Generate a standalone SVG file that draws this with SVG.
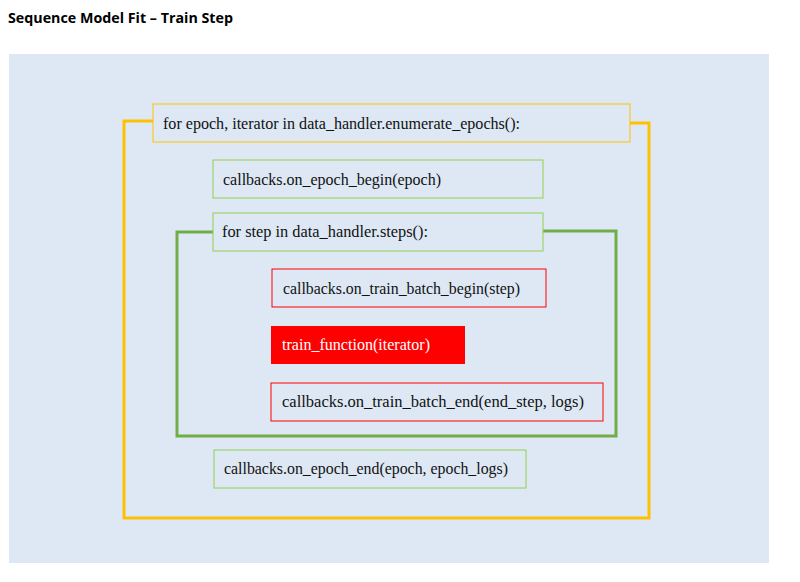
<svg xmlns="http://www.w3.org/2000/svg" width="800" height="582" viewBox="0 0 800 582">
<style>
.t{font-family:"Liberation Serif","Times New Roman",serif;font-size:16px;fill:#111}
.box{fill:#dde8f4;stroke-width:1}
.g{stroke:#92d050}
.r{stroke:#ff0000}
.y{stroke:#ffc000}
.loop{fill:none;stroke-width:3}
</style>
<rect width="800" height="582" fill="#ffffff"/>
<text x="8" y="23" font-family="'Open Sans','Liberation Sans',sans-serif" font-weight="bold" font-size="14" textLength="225" lengthAdjust="spacingAndGlyphs" fill="#000">Sequence Model Fit – Train Step</text>
<rect x="9" y="54" width="760" height="509" fill="#dde8f4"/>
<g id="connectors">
<path class="loop" stroke="#ffc000" d="M153,121 H124 V518 H649 V123 H630"/>
<path class="loop" stroke="#70ad47" d="M213,232 H177 V436 H616 V231 H543"/>
</g>
<g id="epoch-loop">
<rect class="box y" x="153" y="104" width="477" height="38"/>
<text class="t" x="163" y="129" textLength="357" lengthAdjust="spacingAndGlyphs">for epoch, iterator in data_handler.enumerate_epochs():</text>
</g>
<g id="epoch-begin">
<rect class="box g" x="213" y="160" width="330" height="38"/>
<text class="t" x="223" y="185" textLength="218" lengthAdjust="spacingAndGlyphs">callbacks.on_epoch_begin(epoch)</text>
</g>
<g id="step-loop">
<rect class="box g" x="213" y="213" width="330" height="38"/>
<text class="t" x="222" y="237" textLength="206" lengthAdjust="spacingAndGlyphs">for step in data_handler.steps():</text>
</g>
<g id="batch-begin">
<rect class="box r" x="272" y="269" width="274" height="38"/>
<text class="t" x="283" y="294" textLength="237" lengthAdjust="spacingAndGlyphs">callbacks.on_train_batch_begin(step)</text>
</g>
<g id="train-function">
<rect x="271" y="326" width="194" height="38" fill="#ff0000"/>
<text class="t" x="282" y="350" textLength="148" lengthAdjust="spacingAndGlyphs" style="fill:#ffffff">train_function(iterator)</text>
</g>
<g id="batch-end">
<rect class="box r" x="271" y="383" width="332" height="38"/>
<text class="t" x="282" y="407" textLength="302" lengthAdjust="spacingAndGlyphs">callbacks.on_train_batch_end(end_step, logs)</text>
</g>
<g id="epoch-end">
<rect class="box g" x="214" y="450" width="312" height="38"/>
<text class="t" x="224" y="474" textLength="284" lengthAdjust="spacingAndGlyphs">callbacks.on_epoch_end(epoch, epoch_logs)</text>
</g>
</svg>
